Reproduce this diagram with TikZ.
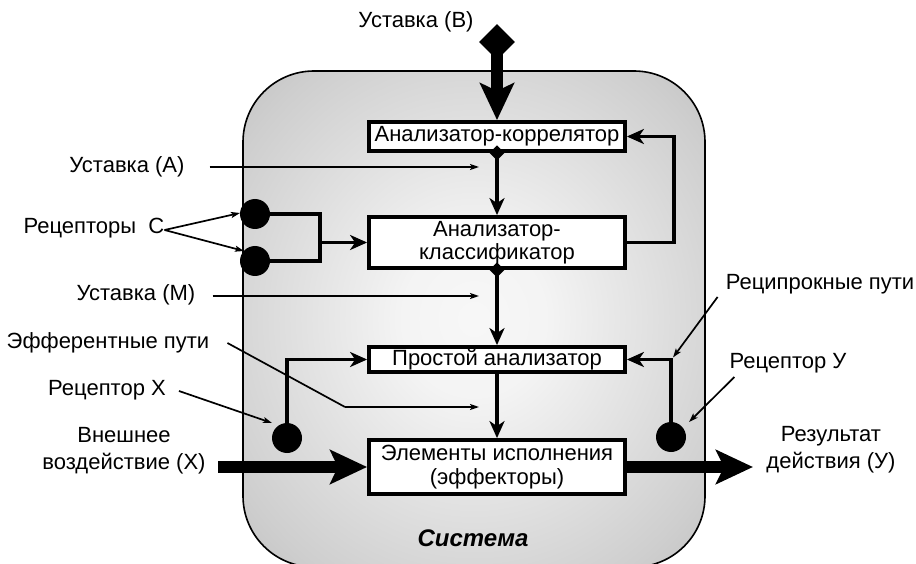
\documentclass[tikz,border=0pt]{standalone}
\usepackage{fontspec}
\setmainfont{Liberation Sans}
\usetikzlibrary{arrows.meta,shapes.geometric,calc}
\pgfdeclareradialshading{sysshade}{\pgfpoint{0bp}{0bp}}{color(0bp)=(gray!6); color(8bp)=(gray!9); color(30bp)=(gray!38); color(50bp)=(gray!70); color(72bp)=(gray!80)}
\begin{document}
\begin{tikzpicture}[x=1pt,y=-1pt,
  every node/.style={font=\fontsize{22}{27}\selectfont},
  box/.style={draw, line width=3.8pt, fill=white, minimum width=256pt, inner sep=0pt, align=center, font=\fontsize{22}{23.5}\selectfont},
  conn/.style={line width=3.6pt, -{Stealth[length=17pt,width=15pt,inset=5pt]}},
  pointer/.style={line width=1.7pt, -{Stealth[length=9pt,width=6pt,inset=2pt]}},
  bigarrow/.style={line width=12pt, -{Stealth[length=37pt,width=34pt,inset=8pt]}},
  dot/.style={circle, fill=black, minimum size=30pt, inner sep=0pt},
  smalldia/.style={diamond, fill=black, minimum size=15pt, inner sep=0pt},
  bigdia/.style={diamond, fill=black, minimum size=36pt, inner sep=0pt},
  lbl/.style={inner sep=0pt, align=center},
]
\useasboundingbox (0,0) rectangle (916,564);
\clip (0,0) rectangle (916,564);

% system
\node[draw, line width=1.6pt, rounded corners=71pt, shading=sysshade, minimum width=462pt, minimum height=496pt, inner sep=0pt] (sys) at (474,319) {};
\node[lbl, font=\fontsize{24}{28}\selectfont\bfseries\itshape] (lSys) at (473,538) {Система};

% boxes
\node[box, minimum height=29pt] (corr) at (497,136.5) {Анализатор-коррелятор};
\node[box, minimum height=51pt] (cls) at (497,242.5) {Анализатор-\\классификатор};
\node[box, minimum height=25pt] (simple) at (497,359.5) {Простой анализатор};
\node[box, minimum height=54pt] (eff) at (497,467) {Элементы исполнения\\(эффекторы)};

% labels
\node[lbl] (lB) at (416,22) {Уставка (B)};
\node[lbl] (lA) at (127,167) {Уставка (A)};
\node[lbl] (lC) at (94,228) {Рецепторы\ \ С};
\node[lbl] (lM) at (136,295) {Уставка (M)};
\node[lbl] (lE) at (108,343) {Эфферентные пути};
\node[lbl] (lX) at (107,390) {Рецептор X};
\node[lbl] (lIn) at (124,451) {Внешнее\\воздействие (X)};
\node[lbl] (lOut) at (831,450) {Результат\\действия (У)};
\node[lbl] (lR) at (820,284) {Реципрокные пути};
\node[lbl] (lY) at (788,363) {Рецептор У};

% receptors
\node[dot] (c1) at (255,214) {};
\node[dot] (c2) at (255,261) {};
\node[dot] (rx) at (287,438) {};
\node[dot] (ry) at (671,437) {};

% setpoint B
\draw[bigarrow] (497,42) -- (corr.north);
\node[bigdia] (bd) at (497,42) {};

% main chain
\draw[conn] (corr.south) -- (cls.north);
\node[smalldia] at (corr.south) {};
\draw[conn] (cls.south) -- (simple.north);
\node[smalldia] at (cls.south) {};
\draw[conn] (simple.south) -- (eff.north);

% feedback
\draw[conn] (cls.east) -- ++(47,0) |- (corr.east);

% receptors C bracket
\coordinate (cj) at (320,242.5);
\draw[line width=3.6pt] (c1.east) -| (cj) |- (c2.east);
\draw[conn] (cj) -- (cls.west);

% receptor X and Y paths
\draw[conn] (rx.north) |- (simple.west);
\draw[conn] (ry.north) |- (simple.east);
\coordinate (ycorner) at (ry.north |- simple.east);

% big in/out arrows
\coordinate (inS) at (218,467);
\coordinate (outE) at (753,467);
\draw[bigarrow] (inS) -- (eff.west);
\draw[bigarrow] (eff.east) -- (outE);

% thin pointers
\coordinate (aE) at (479,167);
\coordinate (mE) at (479,296);
\coordinate (eK) at (345,407);
\coordinate (eE) at (479,407);
\draw[pointer] ($(lA.east)+(25,0)$) -- (aE);
\draw[pointer] ($(lM.east)+(17,1)$) -- (mE);
\draw[line width=1.7pt] ($(lE.east)+(18,0)$) -- (eK);
\draw[pointer] (eK) -- (eE);
\draw[pointer] ($(lC.east)+(0,2)$) -- ($(c1)+(-15,-1)$);
\draw[pointer] ($(lC.east)+(0,2)$) -- ($(c2)+(-11,-10)$);
\draw[pointer] ($(lX.east)+(13,1)$) -- ($(rx)+(-15,-15)$);
\draw[pointer] ($(lY.west)+(5,14)$) -- ($(ry)+(18,-15)$);
\draw[pointer] ($(lR.west)+(-8,13)$) -- ($(ycorner)+(2,-2)$);
\end{tikzpicture}
\end{document}
